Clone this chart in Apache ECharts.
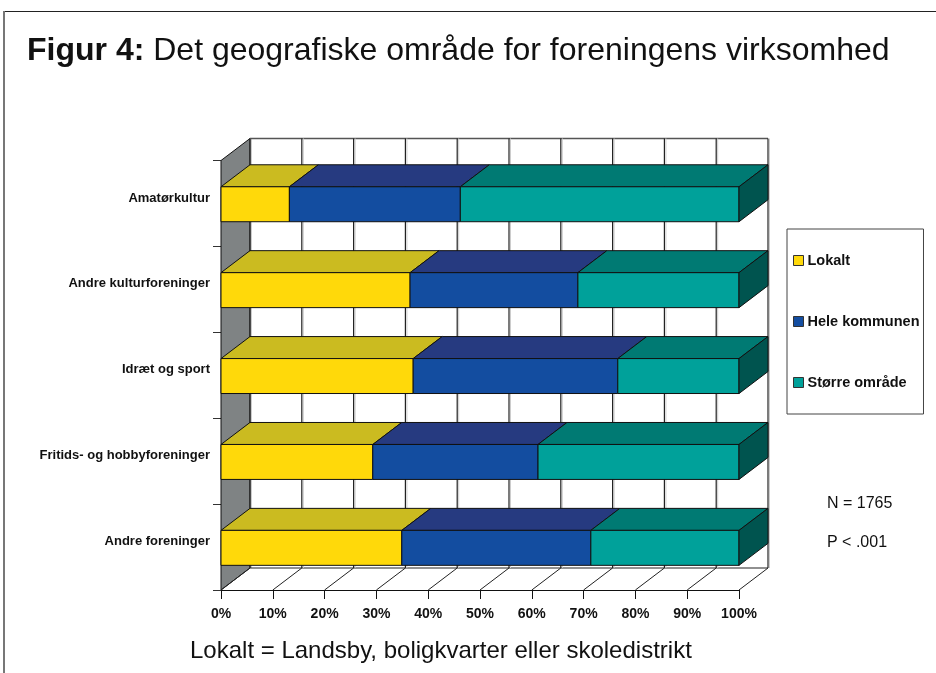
<!DOCTYPE html>
<html>
<head>
<meta charset="utf-8">
<style>
  html, body { margin: 0; padding: 0; background: #fff; }
  #chart { width: 936px; height: 673px; }
</style>
<script src="https://cdn.jsdelivr.net/npm/echarts@6/dist/echarts.min.js"></script>
</head>
<body>
<div id="chart"></div>
<script>
const categories = ["Amatørkultur", "Andre kulturforeninger", "Idræt og sport", "Fritids- og hobbyforeninger", "Andre foreninger"];
const lokalt = [13.2, 36.5, 37.1, 29.3, 34.9];
const heleKommunen = [33.0, 32.4, 39.5, 31.9, 36.5];
const storreOmrade = [53.8, 31.1, 23.4, 38.8, 28.6];
const ticks = [0, 10, 20, 30, 40, 50, 60, 70, 80, 90, 100];

const font = '"Liberation Sans", Arial, sans-serif';
const depthX = 29;
const depthY = 22;
const barShare = 0.407;

// starts of each stacked segment
const segments = (values, before) =>
  values.map((v, i) => {
    const start = before.reduce((sum, arr) => sum + arr[i], 0);
    return [i, start, start + v];
  });

const poly = (points, fill, z2) => ({
  type: "polygon",
  z2: z2 || 0,
  shape: { points },
  style: { fill, stroke: "#111", lineWidth: 1 },
});

const line = (x1, y1, x2, y2, stroke, width) => ({
  type: "line",
  shape: { x1, y1, x2, y2 },
  style: { stroke, lineWidth: width || 1 },
});

function renderWall(params, api) {
  const r = params.coordSys;
  const x = api.coord([api.value(0), 0])[0];
  const top = r.y;
  const bottom = r.y + r.height;
  const children = [
    line(x + depthX + 1.5, top - depthY, x + depthX + 1.5, bottom - depthY, "#ccc", 1),
    line(x + depthX, top - depthY, x + depthX, bottom - depthY, "#222", 1.2),
    line(x, bottom, x + depthX, bottom - depthY, "#222", 1),
  ];
  if (api.value(0) === 0) {
    children.unshift(
      poly([[x, top], [x + depthX, top - depthY], [x + depthX, bottom - depthY], [x, bottom]], "#7f8384")
    );
    children.push(
      line(x + depthX, top - depthY, r.x + r.width + depthX, top - depthY, "#555", 1.5),
      line(x + depthX, bottom - depthY, r.x + r.width + depthX, bottom - depthY, "#222", 1.2)
    );
  }
  return { type: "group", children };
}

const makeRender = (topColor, sideColor) => (params, api) => {
  const cat = api.value(0);
  const start = api.coord([api.value(1), cat]);
  const end = api.coord([api.value(2), cat]);
  const h = api.size([0, 1])[1] * barShare;
  const y0 = start[1] - h / 2 + 0.8;
  const y1 = y0 + h;
  const children = [
    poly(
      [[start[0], y0], [end[0], y0], [end[0] + depthX, y0 - depthY], [start[0] + depthX, y0 - depthY]],
      topColor
    ),
    poly(
      [[start[0], y0], [end[0], y0], [end[0], y1], [start[0], y1]],
      api.visual("color")
    ),
  ];
  if (sideColor) {
    children.push(
      poly(
        [[end[0], y0], [end[0] + depthX, y0 - depthY], [end[0] + depthX, y1 - depthY], [end[0], y1]],
        sideColor
      )
    );
  }
  return { type: "group", children };
};

const chart = echarts.init(document.getElementById("chart"), null, { renderer: "canvas" });

chart.setOption({
  animation: false,
  backgroundColor: "#fff",
  textStyle: { fontFamily: font },
  grid: { left: 221, right: 197, top: 160.5, bottom: 83, containLabel: false },
  title: [
    {
      left: 22,
      top: 30,
      text: "{b|Figur 4:} Det geografiske område for foreningens virksomhed",
      textStyle: {
        fontFamily: font,
        fontSize: 32,
        fontWeight: "normal",
        color: "#111",
        rich: { b: { fontFamily: font, fontSize: 32, fontWeight: "bold", color: "#111" } },
      },
    },
    {
      left: 185,
      top: 634,
      text: "Lokalt = Landsby, boligkvarter eller skoledistrikt",
      textStyle: { fontFamily: font, fontSize: 24, fontWeight: "normal", color: "#111" },
    },
    {
      left: 822,
      top: 491,
      text: "N = 1765",
      textStyle: { fontFamily: font, fontSize: 16, fontWeight: "normal", color: "#111" },
    },
    {
      left: 822,
      top: 530,
      text: "P < .001",
      textStyle: { fontFamily: font, fontSize: 16, fontWeight: "normal", color: "#111" },
    },
  ],
  legend: {
    orient: "vertical",
    left: 787,
    top: 229,
    padding: [24, 4, 24, 6],
    itemGap: 46,
    itemWidth: 10,
    itemHeight: 10,
    icon: "rect",
    backgroundColor: "#fff",
    borderColor: "#444",
    borderWidth: 1,
    data: ["Lokalt", "Hele kommunen", "Større område"],
    textStyle: { fontFamily: font, fontSize: 14.5, fontWeight: "bold", color: "#111", padding: [0, 0, 0, -1] },
    itemStyle: { borderColor: "#333", borderWidth: 1 },
  },
  xAxis: {
    type: "value",
    min: 0,
    max: 100,
    interval: 10,
    splitLine: { show: false },
    axisLine: { show: true, lineStyle: { color: "#111" } },
    axisTick: { show: true, length: 9, lineStyle: { color: "#111" } },
    axisLabel: {
      formatter: "{value}%",
      margin: 17,
      fontFamily: font,
      fontSize: 14,
      fontWeight: "bold",
      color: "#111",
    },
  },
  yAxis: {
    type: "category",
    inverse: true,
    data: categories,
    axisLine: { show: false },
    axisTick: { show: true, length: 8, lineStyle: { color: "#333" } },
    axisLabel: {
      margin: 11,
      fontFamily: font,
      fontSize: 13,
      fontWeight: "bold",
      color: "#111",
      verticalAlign: "bottom",
      lineHeight: 11,
    },
  },
  series: [
    {
      name: "wall",
      type: "custom",
      z: 1,
      silent: true,
      renderItem: renderWall,
      encode: { x: 0 },
      data: ticks.map((t) => [t]),
    },
    {
      name: "Lokalt",
      type: "custom",
      z: 2,
      itemStyle: { color: "#ffd90a" },
      renderItem: makeRender("#cbbb20"),
      encode: { y: 0, x: [1, 2] },
      data: segments(lokalt, []),
    },
    {
      name: "Hele kommunen",
      type: "custom",
      z: 3,
      itemStyle: { color: "#134da0" },
      renderItem: makeRender("#263a80"),
      encode: { y: 0, x: [1, 2] },
      data: segments(heleKommunen, [lokalt]),
    },
    {
      name: "Større område",
      type: "custom",
      z: 4,
      itemStyle: { color: "#00a19a" },
      renderItem: makeRender("#007a73", "#00544f"),
      encode: { y: 0, x: [1, 2] },
      data: segments(storreOmrade, [lokalt, heleKommunen]),
    },
  ],
  graphic: [
    { type: "line", silent: true, shape: { x1: 4, y1: 11.5, x2: 936, y2: 11.5 }, style: { stroke: "#222", lineWidth: 1 } },
    { type: "line", silent: true, shape: { x1: 4, y1: 11, x2: 4, y2: 673 }, style: { stroke: "#777", lineWidth: 2 } },
  ],
});
</script>
</body>
</html>
